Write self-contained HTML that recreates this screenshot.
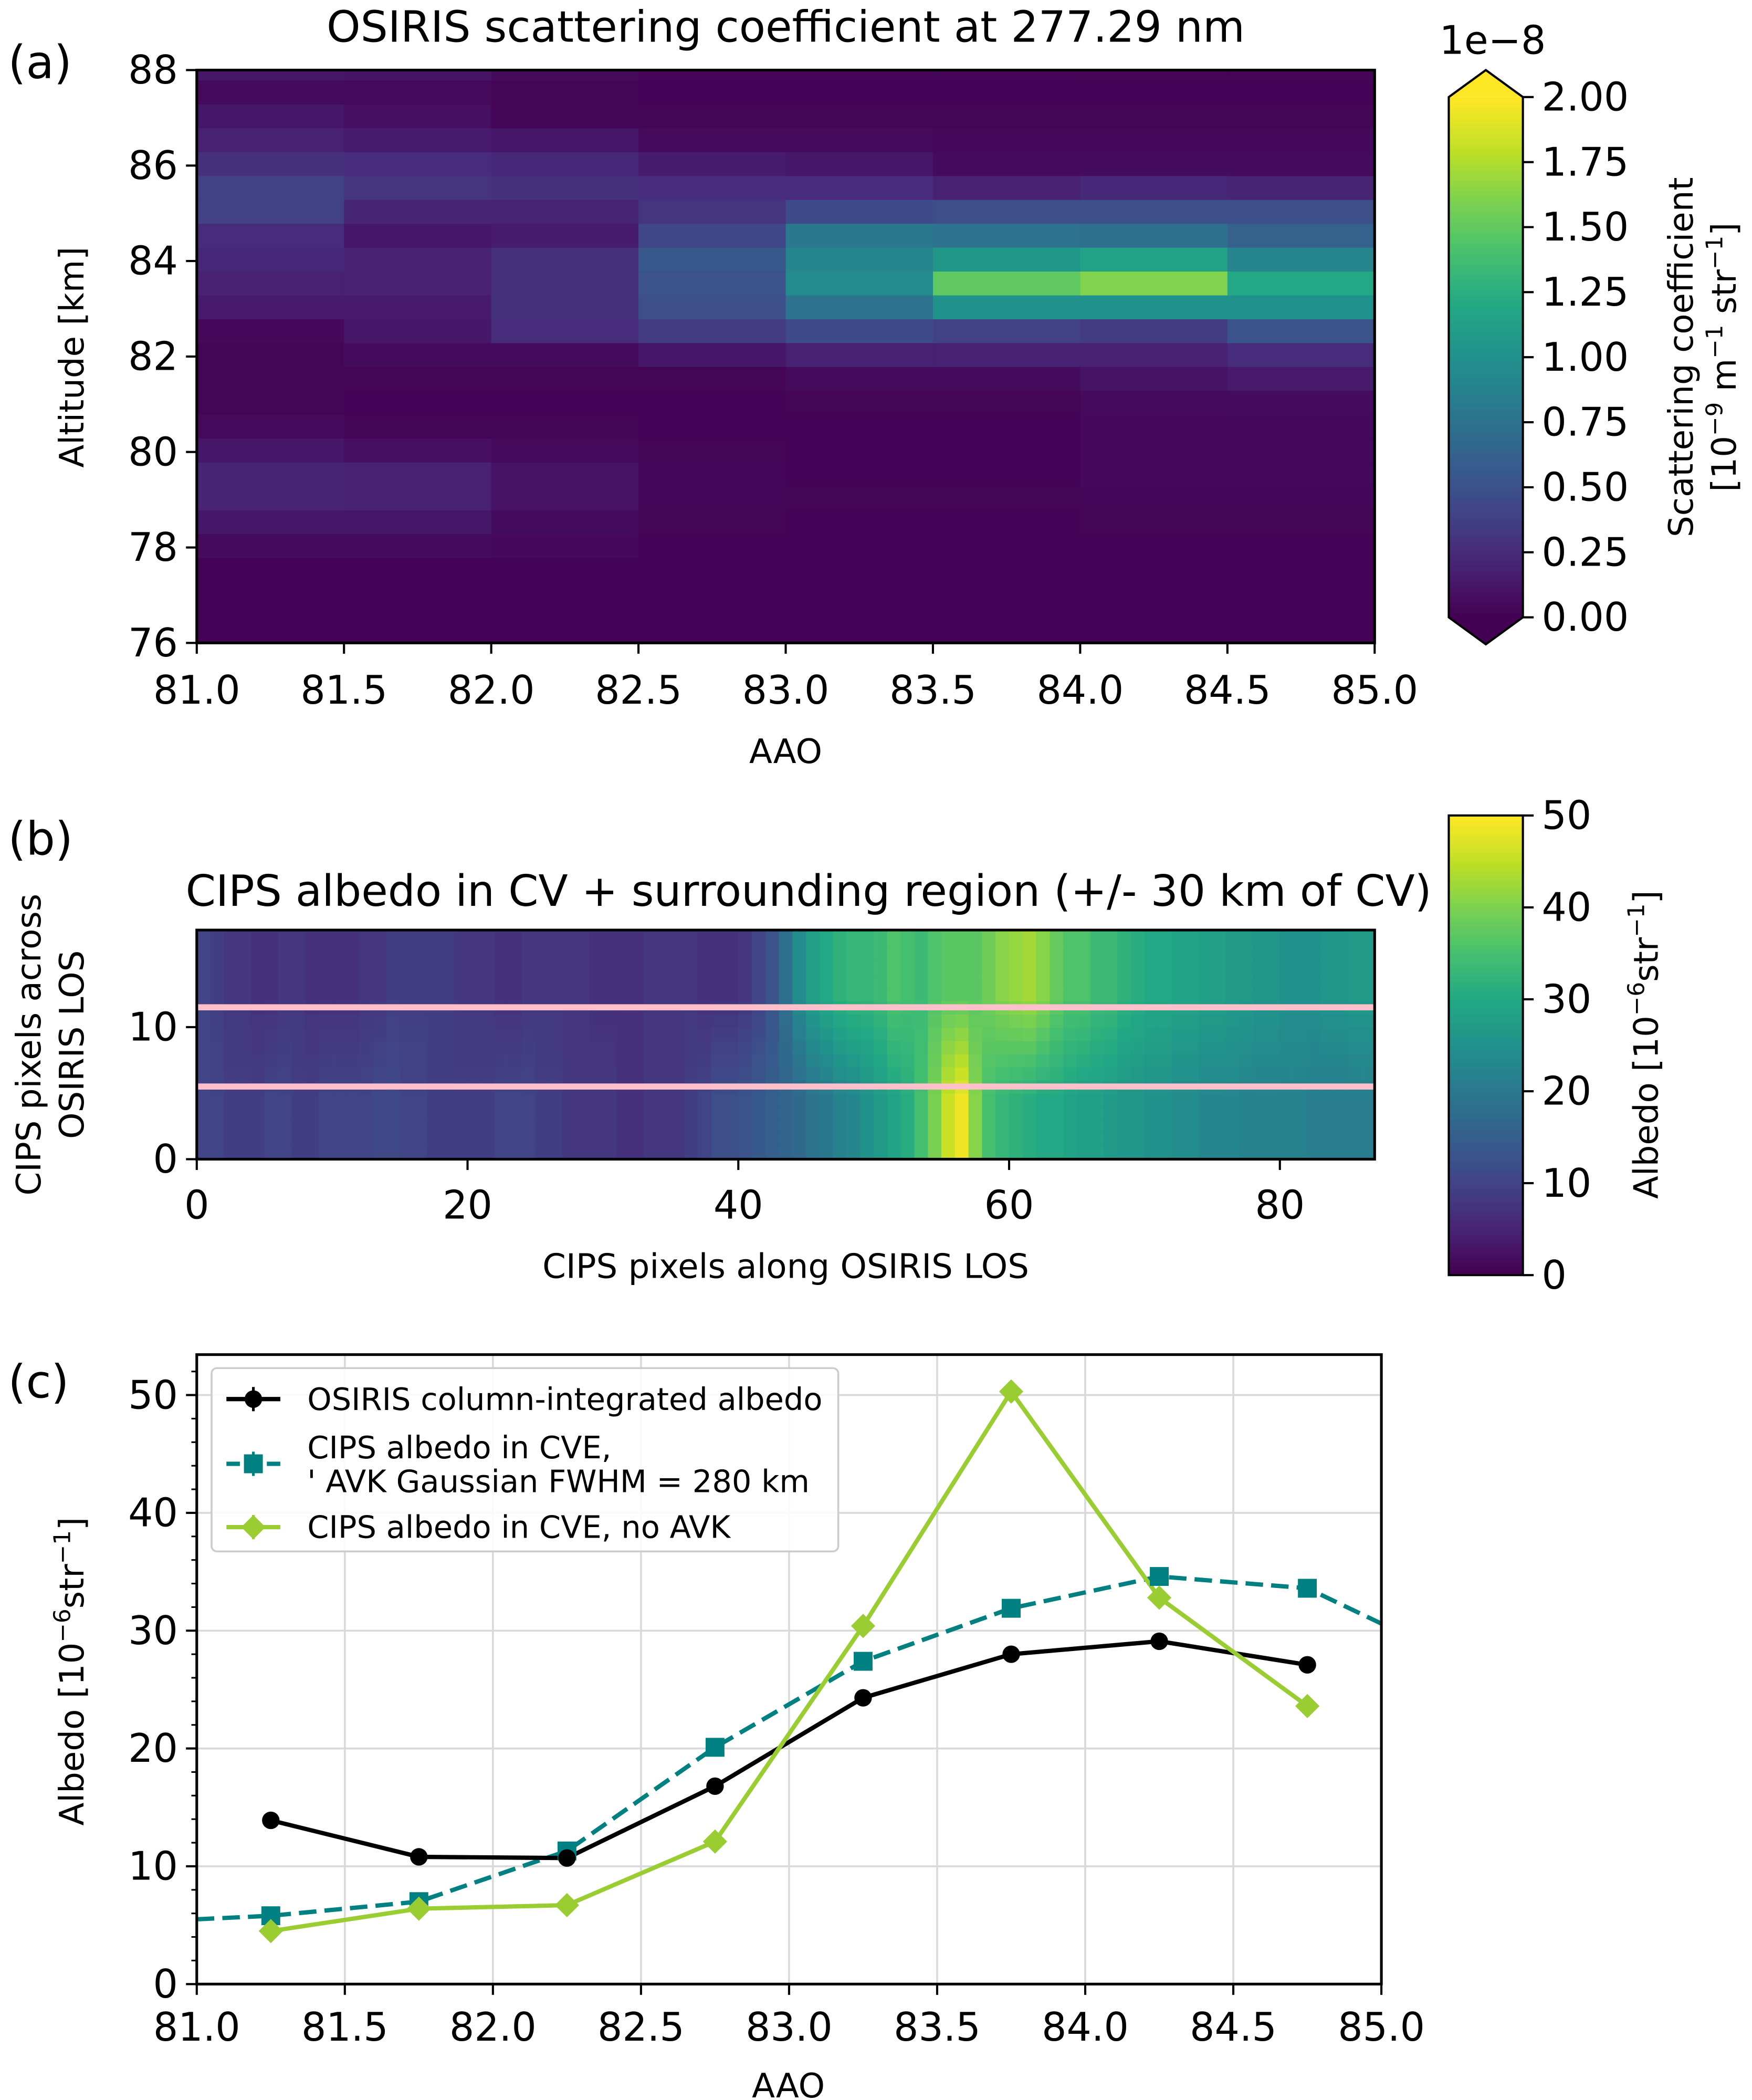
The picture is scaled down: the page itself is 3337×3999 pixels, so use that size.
<!DOCTYPE html>
<html><head><meta charset="utf-8"><style>
html,body{margin:0;padding:0;background:#fff}
svg{display:block;font-family:"DejaVu Sans","Liberation Sans",sans-serif}
</style></head><body>
<svg id="fig" xmlns="http://www.w3.org/2000/svg" width="3337" height="3999" viewBox="0 0 1300 1558" preserveAspectRatio="none">
<rect width="1300" height="1558" fill="#fff"/>
<g id="pa"></g>
<g id="pb"></g>
<g id="pc"></g>
</svg>
<script>
// ---- Panel (a) data: scattering coefficient (1e-8), rows top->bottom, 8 AAO columns ----
const aCols = [81.0,81.5,82.0,82.5,83.0,83.5,84.0,84.5];
const aRows = [
[0.12,0.1,0.05,0.03,0.03,0.03,0.02,0.02],
[0.05,0.05,0.02,0.01,0.01,0.01,0.01,0.01],
[0.12,0.08,0.02,0.02,0.02,0.02,0.02,0.02],
[0.18,0.15,0.12,0.05,0.05,0.04,0.04,0.04],
[0.28,0.25,0.22,0.15,0.12,0.06,0.06,0.06],
[0.38,0.3,0.28,0.25,0.25,0.18,0.22,0.2],
[0.38,0.2,0.2,0.3,0.45,0.48,0.48,0.48],
[0.25,0.12,0.15,0.42,0.8,0.75,0.72,0.62],
[0.22,0.18,0.28,0.55,0.9,1.05,1.15,0.9],
[0.18,0.18,0.28,0.5,0.95,1.5,1.62,1.2],
[0.14,0.14,0.28,0.48,0.75,1.0,1.0,1.0],
[0.04,0.12,0.25,0.35,0.45,0.38,0.35,0.5],
[0.02,0.06,0.06,0.12,0.18,0.18,0.18,0.25],
[0.02,0.02,0.02,0.02,0.06,0.06,0.1,0.14],
[0.02,0.01,0.01,0.01,0.02,0.02,0.05,0.06],
[0.05,0.02,0.02,0.01,0.01,0.01,0.04,0.04],
[0.12,0.08,0.05,0.02,0.01,0.01,0.04,0.04],
[0.2,0.18,0.1,0.03,0.01,0.01,0.04,0.04],
[0.2,0.18,0.1,0.03,0.02,0.02,0.03,0.03],
[0.12,0.12,0.06,0.02,0.01,0.01,0.02,0.02],
[0.06,0.06,0.04,0.01,0.01,0.01,0.01,0.01],
[0.01,0.01,0.01,0.01,0.01,0.01,0.01,0.01],
[0.01,0.01,0.01,0.01,0.01,0.01,0.01,0.01],
[0.01,0.01,0.01,0.01,0.01,0.01,0.01,0.01],
[0.01,0.01,0.01,0.01,0.01,0.01,0.01,0.01]];
const aRowTops = [88,87.78,87.28,86.78,86.28,85.78,85.28,84.78,84.28,83.78,83.28,82.78,82.28,81.78,81.28,80.78,80.28,79.78,79.28,78.78,78.28,77.78,77.28,76.78,76.28];
const aXTicks = ["81.0","81.5","82.0","82.5","83.0","83.5","84.0","84.5","85.0"];
const aYTicks = ["76","78","80","82","84","86","88"];
const aCbTicks = ["0.00","0.25","0.50","0.75","1.00","1.25","1.50","1.75","2.00"];

// ---- Panel (b) data: CIPS albedo column profiles (1e-6 str^-1) ----
const bBottom = [10,10,9,9,9,10,10,9,9,10,10,10,10,11,11,10,10,9,9,9,9,9,10,10,10,9,9,8,8,8,8,7,7,8,8,8,9,10,12,12,13,14,15,16,17,19,20,22,23,25,27,29,31,35,40,46,49,41,35,33,32,31,30,30,29,28,28,27,26,26,25,25,24,24,23,23,23,22,22,22,22,22,21,21,21,21,21];
const bTop = [10,9,8,8,7,7,8,8,7,7,7,7,8,8,9,9,9,9,9,8,8,8,7,7,8,8,8,8,8,7,7,7,7,8,8,8,8,7,7,7,8,10,13,18,24,28,30,32,33,33,34,36,35,34,36,37,37,37,39,41,42,43,41,38,36,36,34,34,32,31,30,30,29,29,28,28,27,27,26,26,25,25,25,26,26,27,27];
const bRowCount = 17;
const bXTicks = ["0","20","40","60","80"];
const bYTicks = ["0","10"];
const bCbTicks = ["0","10","20","30","40","50"];
const bLines = [5.5, 11.5];

// ---- Panel (c) data ----
const cX = [81.25,81.75,82.25,82.75,83.25,83.75,84.25,84.75];
const cOsiris = [13.9,10.8,10.7,16.8,24.3,28.0,29.1,27.1];
const cAvkX = [81.0,81.25,81.75,82.25,82.75,83.25,83.75,84.25,84.75,85.0];
const cAvk = [5.5,5.8,7.0,11.3,20.1,27.4,31.9,34.6,33.6,30.6];
const cNoAvk = [4.5,6.4,6.7,12.1,30.4,50.3,32.8,23.6];
const cXTicks = ["81.0","81.5","82.0","82.5","83.0","83.5","84.0","84.5","85.0"];
const cYTicks = ["0","10","20","30","40","50"];

const NS="http://www.w3.org/2000/svg";
const VIR=["#440154","#482475","#414487","#355f8d","#2a788e","#21918c","#22a884","#44bf70","#7ad151","#bddf26","#fde725"];
function hx(c){return [parseInt(c.substr(1,2),16),parseInt(c.substr(3,2),16),parseInt(c.substr(5,2),16)];}
function vir(t){t=Math.max(0,Math.min(1,t));const f=t*10,i=Math.min(9,Math.floor(f)),r=f-i;const a=hx(VIR[i]),b=hx(VIR[i+1]);
return "rgb("+a.map((v,k)=>Math.round(v+(b[k]-v)*r)).join(",")+")";}
function el(p,tag,at,txt){const e=document.createElementNS(NS,tag);for(const k in at)e.setAttribute(k,at[k]);if(txt!==undefined)e.textContent=txt;p.appendChild(e);return e;}
function lin(d0,d1,r0,r1){return v=>r0+(v-d0)*(r1-r0)/(d1-d0);}
const FS=29, LS=25, TS=32, PS=34, SUP='<tspan font-size="17" dy="-10">';
function sup(s){return SUP+s+'</tspan><tspan dy="10">';}

// ================= Panel A =================
(function(){
const g=document.getElementById('pa');
const L=146,R=1020,T=52,B=477;
const x=lin(81,85,L,R), y=lin(76,88,B,T);
let t=el(g,'text',{x:6,y:58,'font-size':PS},'(a)');


t=el(g,'text',{x:583,y:31,'font-size':TS,'text-anchor':'middle'},'OSIRIS scattering coefficient at 277.29 nm');


const hm=el(g,'g',{});


aRows.forEach((row,j)=>{
  const top=aRowTops[j];
  const yb = j===0?aRowTops[1]:Math.max(76,top-0.5);
  row.forEach((v,i)=>{
    const c=el(hm,'rect',{x:x(aCols[i]),y:y(top),width:x(aCols[i]+0.5)-x(aCols[i])+0.5,height:y(yb)-y(top)+0.5,fill:vir(v/2)});
    
    
  });
});
el(g,'rect',{x:L,y:T,width:R-L,height:B-T,fill:'none',stroke:'#000','stroke-width':2});
aXTicks.forEach(s=>{const v=parseFloat(s);el(g,'line',{x1:x(v),x2:x(v),y1:B,y2:B+8,stroke:'#000','stroke-width':1.6});
  const tt=el(g,'text',{x:x(v),y:B+45,'font-size':FS,'text-anchor':'middle'},s);
  
  });
aYTicks.forEach(s=>{const v=parseFloat(s);el(g,'line',{x1:L-8,x2:L,y1:y(v),y2:y(v),stroke:'#000','stroke-width':1.6});
  const tt=el(g,'text',{x:L-14,y:y(v)+10,'font-size':FS,'text-anchor':'end'},s);
  
  });
t=el(g,'text',{x:583,y:566,'font-size':LS,'text-anchor':'middle'},'AAO');


t=el(g,'text',{x:62,y:265,'font-size':LS,'text-anchor':'middle',transform:'rotate(-90 62 265)'},'Altitude [km]');


const cL=1075,cR=1130,cT=72,cB=458;const cy=lin(0,2,cB,cT);
const cb=el(g,'g',{});


for(let k=0;k<100;k++){el(cb,'rect',{x:cL,y:cB-(k+1)*(cB-cT)/100,width:cR-cL,height:(cB-cT)/100+0.6,fill:vir(k/99)});}
el(cb,'polygon',{points:`${cL},${cT} ${(cL+cR)/2},52 ${cR},${cT}`,fill:VIR[10]});
el(cb,'polygon',{points:`${cL},${cB} ${(cL+cR)/2},478 ${cR},${cB}`,fill:VIR[0]});
el(cb,'polygon',{points:`${cL},${cT} ${(cL+cR)/2},52 ${cR},${cT} ${cR},${cB} ${(cL+cR)/2},478 ${cL},${cB}`,fill:'none',stroke:'#000','stroke-width':1.6});
aCbTicks.forEach(s=>{const v=parseFloat(s);el(g,'line',{x1:cR,x2:cR+8,y1:cy(v),y2:cy(v),stroke:'#000','stroke-width':1.6});
  const tt=el(g,'text',{x:cR+14,y:cy(v)+10,'font-size':FS},s);
  
  });
t=el(g,'text',{x:1068,y:40,'font-size':FS},'1e\u22128');


t=el(g,'text',{x:1256,y:265,'font-size':LS,'text-anchor':'middle',transform:'rotate(-90 1256 265)'},'Scattering coefficient');


t=el(g,'text',{x:1288,y:265,'font-size':LS,'text-anchor':'middle',transform:'rotate(-90 1288 265)'});
t.innerHTML='[10'+sup('\u22129')+' m'+sup('\u22121')+' str'+sup('\u22121')+']</tspan>';


})();

// ================= Panel B =================
(function(){
const g=document.getElementById('pb');
const L=146,R=1020,T=690,B=860;
const x=lin(0,87,L,R), y=lin(0,17.35,B,T);
let t=el(g,'text',{x:6,y:634,'font-size':PS},'(b)');


t=el(g,'text',{x:600,y:672,'font-size':TS,'text-anchor':'middle'},'CIPS albedo in CV + surrounding region (+/- 30 km of CV)');


const hm=el(g,'g',{});


for(let j=0;j<bRowCount;j++){
  const w=Math.max(0,Math.min(1,(j-4)/8));
  const yt=j===bRowCount-1?17.35:j+1;
  for(let i=0;i<87;i++){
    const v=bBottom[i]*(1-w)+bTop[i]*w;
    const c=el(hm,'rect',{x:x(i),y:y(yt),width:x(i+1)-x(i)+0.5,height:y(j)-y(yt)+0.5,fill:vir(v/50)});
    
    
  }
}
bLines.forEach(v=>{const l=el(g,'line',{x1:L,x2:R,y1:y(v),y2:y(v),stroke:'#ffc0cb','stroke-width':4.5});
  
  });
el(g,'rect',{x:L,y:T,width:R-L,height:B-T,fill:'none',stroke:'#000','stroke-width':2});
bXTicks.forEach(s=>{const v=parseFloat(s);el(g,'line',{x1:x(v),x2:x(v),y1:B,y2:B+8,stroke:'#000','stroke-width':1.6});
  const tt=el(g,'text',{x:x(v),y:B+44,'font-size':FS,'text-anchor':'middle'},s);
  
  });
bYTicks.forEach(s=>{const v=parseFloat(s);el(g,'line',{x1:L-8,x2:L,y1:y(v),y2:y(v),stroke:'#000','stroke-width':1.6});
  const tt=el(g,'text',{x:L-14,y:y(v)+10,'font-size':FS,'text-anchor':'end'},s);
  
  });
t=el(g,'text',{x:583,y:948,'font-size':LS,'text-anchor':'middle'},'CIPS pixels along OSIRIS LOS');


t=el(g,'text',{x:30,y:775,'font-size':LS,'text-anchor':'middle',transform:'rotate(-90 30 775)'},'CIPS pixels across');


t=el(g,'text',{x:62,y:775,'font-size':LS,'text-anchor':'middle',transform:'rotate(-90 62 775)'},'OSIRIS LOS');


const cL=1075,cR=1130,cT=605,cB=946;const cy=lin(0,50,cB,cT);
const cb=el(g,'g',{});


for(let k=0;k<100;k++){el(cb,'rect',{x:cL,y:cB-(k+1)*(cB-cT)/100,width:cR-cL,height:(cB-cT)/100+0.6,fill:vir(k/99)});}
el(cb,'rect',{x:cL,y:cT,width:cR-cL,height:cB-cT,fill:'none',stroke:'#000','stroke-width':1.6});
bCbTicks.forEach(s=>{const v=parseFloat(s);el(g,'line',{x1:cR,x2:cR+8,y1:cy(v),y2:cy(v),stroke:'#000','stroke-width':1.6});
  const tt=el(g,'text',{x:cR+14,y:cy(v)+10,'font-size':FS},s);
  
  });
t=el(g,'text',{x:1230,y:775,'font-size':LS,'text-anchor':'middle',transform:'rotate(-90 1230 775)'});
t.innerHTML='Albedo [10'+sup('\u22126')+'str'+sup('\u22121')+']</tspan>';


})();

// ================= Panel C =================
(function(){
const g=document.getElementById('pc');
const L=146,R=1025,T=1005,B=1472;
const x=lin(81,85,L,R), y=lin(0,50,B,1035);
let t=el(g,'text',{x:6,y:1037,'font-size':PS},'(c)');


const defs=el(g,'defs',{});const cp=el(defs,'clipPath',{id:'cclip'});el(cp,'rect',{x:L,y:T,width:R-L,height:B-T});
cXTicks.forEach(s=>{const v=parseFloat(s);el(g,'line',{x1:x(v),x2:x(v),y1:T,y2:B,stroke:'#d9d9d9','stroke-width':1.4});});
cYTicks.forEach(s=>{const v=parseFloat(s);el(g,'line',{x1:L,x2:R,y1:y(v),y2:y(v),stroke:'#d9d9d9','stroke-width':1.4});});
const dg=el(g,'g',{'clip-path':'url(#cclip)'});
function series(xs,ys,color,dash,name){
  const p=el(dg,'polyline',{points:xs.map((v,i)=>x(v)+','+y(ys[i])).join(' '),fill:'none',stroke:color,'stroke-width':3.2,'stroke-dasharray':dash||'none'});
  
  
}
series(cAvkX,cAvk,'#008080','13,6','avk-line');
series(cX,cOsiris,'#000','','osiris-line');
series(cX,cNoAvk,'#9acd32','','no-avk-line');
cAvkX.forEach((v,i)=>{if(v<=81||v>=85)return;const m=el(dg,'rect',{x:x(v)-7,y:y(cAvk[i])-7,width:14,height:14,fill:'#008080'});
  
  });
cX.forEach((v,i)=>{const m=el(dg,'circle',{cx:x(v),cy:y(cOsiris[i]),r:6.5,fill:'#000'});
  
  });
cX.forEach((v,i)=>{const X=x(v),Y=y(cNoAvk[i]);const m=el(dg,'polygon',{points:`${X},${Y-9} ${X+9},${Y} ${X},${Y+9} ${X-9},${Y}`,fill:'#9acd32'});
  
  });
el(g,'rect',{x:L,y:T,width:R-L,height:B-T,fill:'none',stroke:'#000','stroke-width':2});
cXTicks.forEach(s=>{const v=parseFloat(s);el(g,'line',{x1:x(v),x2:x(v),y1:B,y2:B+8,stroke:'#000','stroke-width':1.6});
  const tt=el(g,'text',{x:x(v),y:B+42,'font-size':FS,'text-anchor':'middle'},s);
  
  });
for(let v=2;v<=52;v+=2){if(v%10===0)continue;el(g,'line',{x1:L-4,x2:L,y1:y(v),y2:y(v),stroke:'#000','stroke-width':1.2});}
cYTicks.forEach(s=>{const v=parseFloat(s);el(g,'line',{x1:L-8,x2:L,y1:y(v),y2:y(v),stroke:'#000','stroke-width':1.6});
  const tt=el(g,'text',{x:L-14,y:y(v)+10,'font-size':FS,'text-anchor':'end'},s);
  
  });
t=el(g,'text',{x:585,y:1556,'font-size':LS,'text-anchor':'middle'},'AAO');


t=el(g,'text',{x:62,y:1240,'font-size':LS,'text-anchor':'middle',transform:'rotate(-90 62 1240)'});
t.innerHTML='Albedo [10'+sup('\u22126')+'str'+sup('\u22121')+']</tspan>';


const lg=el(g,'g',{});


el(lg,'rect',{x:157,y:1015,width:465,height:136,rx:4,fill:'#fff','fill-opacity':0.85,stroke:'#ccc','stroke-width':1.4});
function entry(yy,color,dash,mk,lines,name){
  const e=el(lg,'g',{});
  
  
  el(e,'line',{x1:168,x2:208,y1:yy,y2:yy,stroke:color,'stroke-width':3.2,'stroke-dasharray':dash||'none'});
  if(mk==='c')el(e,'circle',{cx:188,cy:yy,r:6.5,fill:color});
  if(mk==='s')el(e,'rect',{x:181,y:yy-7,width:14,height:14,fill:color});
  if(mk==='d')el(e,'polygon',{points:`188,${yy-9} 197,${yy} 188,${yy+9} 179,${yy}`,fill:color});
  el(e,'line',{x1:188,x2:188,y1:yy-9,y2:yy+9,stroke:color,'stroke-width':2});
  lines.forEach((s,k)=>el(e,'text',{x:228,y:yy+8+k*25-(lines.length>1?12:0),'font-size':23},s));
}
entry(1038,'#000','','c',['OSIRIS column-integrated albedo'],'legend-osiris');
entry(1086,'#008080','10,5','s',['CIPS albedo in CVE,',"' AVK Gaussian FWHM = 280 km"],'legend-avk');
entry(1133,'#9acd32','','d',['CIPS albedo in CVE, no AVK'],'legend-no-avk');
})();
</script>
</body></html>
